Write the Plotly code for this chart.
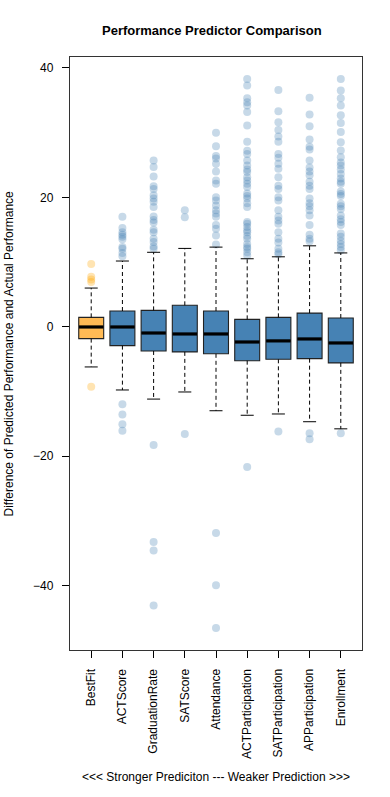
import plotly.graph_objects as go

categories = ["BestFit", "ACTScore", "GraduationRate", "SATScore", "Attendance",
              "ACTParticipation", "SATParticipation", "APParticipation", "Enrollment"]
q1 = [-1.85, -2.93, -3.76, -3.9, -4.2, -5.26, -5.05, -4.95, -5.6]
median = [-0.05, -0.05, -0.98, -1.13, -1.13, -2.37, -2.2, -1.9, -2.52]
q3 = [1.44, 2.42, 2.52, 3.3, 2.42, 1.13, 1.44, 2.1, 1.34]
lower_whisker = [-6.23, -9.79, -11.2, -10.1, -13.0, -13.7, -13.5, -14.7, -15.8]
upper_whisker = [5.97, 10.15, 11.5, 12.1, 12.3, 10.5, 10.8, 12.5, 11.4]

out_bestfit = [9.7, 7.7, 7.3, 6.9, -9.3]
out_actscore = [17.0, 15.25, 14.6, 14.2, 13.9, 13.5, 12.3, 12.05, 11.4, 10.9,
                -12.0, -13.6, -15.1, -16.1]
out_gradrate = [25.7, 24.7, 23.2, 21.7, 21.3, 20.3, 19.8, 19.3, 18.5, 17.05, 16.5,
                16.1, 15.0, 14.6, 13.6, 13.1, 12.4, 12.05,
                -18.3, -33.3, -34.6, -43.1]
out_satscore = [18.0, 16.9, -16.6]
out_attendance = [30.0, 27.9, 26.4, 26.0, 25.2, 24.0, 22.6, 22.1, 20.0, 19.5, 18.75,
                  18.0, 17.5, 17.0, 15.7, 15.15, 14.1, 12.7,
                  -31.9, -40.0, -46.6]
out_actpart = [38.3, 37.3, 35.3, 34.7, 34.2, 33.2, 31.1, 28.6, 27.2, 26.7, 25.7, 24.9,
               24.3, 23.9, 23.1, 22.6, 22.1, 21.6, 20.6, 20.2, 19.8, 19.1, 18.5, 16.2,
               15.9, 15.4, 14.9, 14.6, 14.0, 13.6, 12.8, 12.3, 12.05, 11.5, 11.0,
               -21.7]
out_satpart = [36.6, 33.3, 31.6, 30.4, 29.4, 28.6, 26.7, 26.1, 25.2, 24.4, 23.1, 21.8,
               21.3, 20.0, 19.5, 18.0, 17.0, 16.4, 15.9, 14.6, 13.6, 13.0, 12.05, 11.5,
               11.2, -16.2]
out_appart = [35.4, 32.8, 31.0, 28.95, 27.8, 27.4, 25.7, 24.6, 24.0, 23.4, 22.4, 21.8,
              21.3, 19.8, 19.1, 18.6, 18.0, 17.2, 15.7, 14.2, 13.6, 13.2,
              -16.5, -17.4]
out_enrollment = [38.3, 36.5, 35.3, 34.2, 32.7, 31.5, 30.1, 28.5, 27.25, 26.2, 25.4,
                  24.9, 24.3, 23.6, 22.9, 22.4, 22.1, 20.9, 20.5, 20.2, 19.0, 18.6,
                  18.2, 17.2, 16.6, 16.2, 15.7, 14.4, 13.9, 13.3, 12.8, 12.3, 11.8,
                  -16.5]
outliers = [out_bestfit, out_actscore, out_gradrate, out_satscore, out_attendance,
            out_actpart, out_satpart, out_appart, out_enrollment]

ytick_vals = [-40, -20, 0, 20, 40]

BLUE = "#4682B4"
ORANGE = "#FFBA55"
FONT = "Liberation Sans, Arial, sans-serif"

pos = list(range(1, len(categories) + 1))
fig = go.Figure()

# outlier points
for i, (p, pts) in enumerate(zip(pos, outliers)):
    col = "rgba(255,165,0,0.3)" if i == 0 else "rgba(70,130,180,0.3)"
    fig.add_trace(go.Scatter(x=[p] * len(pts), y=pts, mode="markers",
                             marker=dict(size=8, color=col, line=dict(width=0)),
                             showlegend=False, hoverinfo="y"))

# dashed whiskers
wx, wy = [], []
for p, a, b, c, d in zip(pos, q1, q3, lower_whisker, upper_whisker):
    wx += [p, p, None, p, p, None]
    wy += [b, d, None, a, c, None]
fig.add_trace(go.Scatter(x=wx, y=wy, mode="lines",
                         line=dict(color="black", width=1, dash="4px,3px"),
                         showlegend=False, hoverinfo="skip"))
# staples
fig.add_trace(go.Scatter(x=pos + pos, y=lower_whisker + upper_whisker, mode="markers",
                         marker=dict(symbol="line-ew", size=9.3,
                                     line=dict(color="black", width=1)),
                         showlegend=False, hoverinfo="skip"))

# boxes
for i, p in enumerate(pos):
    fig.add_trace(go.Box(x=[p], q1=[q1[i]], median=[median[i]], q3=[q3[i]],
                         lowerfence=[q1[i]], upperfence=[q3[i]],
                         width=0.8, boxpoints=False,
                         fillcolor=ORANGE if i == 0 else BLUE,
                         line=dict(color="#222222", width=1.1),
                         showlegend=False))

# thick medians
fig.add_trace(go.Scatter(x=pos, y=median, mode="markers",
                         marker=dict(symbol="line-ew", size=17.4,
                                     line=dict(color="black", width=3.2)),
                         showlegend=False, hoverinfo="y"))

allv = [v for pts in outliers for v in pts] + lower_whisker + upper_whisker
lo, hi = min(allv), max(allv)
pad = (hi - lo) * 0.04

fig.update_layout(
    width=390, height=797,
    margin=dict(l=70, r=28, t=57, b=147),
    paper_bgcolor="white", plot_bgcolor="white",
    font=dict(family=FONT, size=12, color="black"),
    showlegend=False,
    xaxis=dict(range=[0.5 - 9 * 0.04 / 2, 9.5 + 9 * 0.04 / 2], tickvals=pos,
               ticktext=categories, tickangle=-90, ticks="outside", ticklen=7,
               tickcolor="black", showgrid=False, zeroline=False, showline=True,
               mirror=True, linecolor="#333333", linewidth=1.3,
               ticklabelstandoff=6, tickfont=dict(size=12), automargin=False),
    yaxis=dict(range=[lo - pad, hi + pad], tickvals=ytick_vals, ticks="outside",
               ticklen=7, tickcolor="black", showgrid=False, zeroline=False,
               showline=True, mirror=True, linecolor="#333333", linewidth=1.3,
               ticklabelstandoff=6, tickfont=dict(size=12), automargin=False),
    annotations=[
        dict(text="<b>Performance Predictor Comparison</b>", xref="paper", yref="paper",
             x=0.5, y=1, yanchor="middle", xshift=-4, yshift=27, showarrow=False,
             font=dict(size=13)),
        dict(text="Difference of Predicted Performance and Actual Performance",
             xref="paper", yref="paper", x=0, y=0.5, xanchor="center",
             xshift=-62, textangle=-90, showarrow=False, font=dict(size=12)),
        dict(text="<<< Stronger Prediciton --- Weaker Prediction >>>",
             xref="paper", yref="paper", x=0.5, y=0, yanchor="middle", yshift=-127,
             showarrow=False, font=dict(size=12)),
    ],
)

fig.write_html("out.html", config={"displayModeBar": False},
               post_script="document.body.style.margin='0';document.body.style.padding='0';")
